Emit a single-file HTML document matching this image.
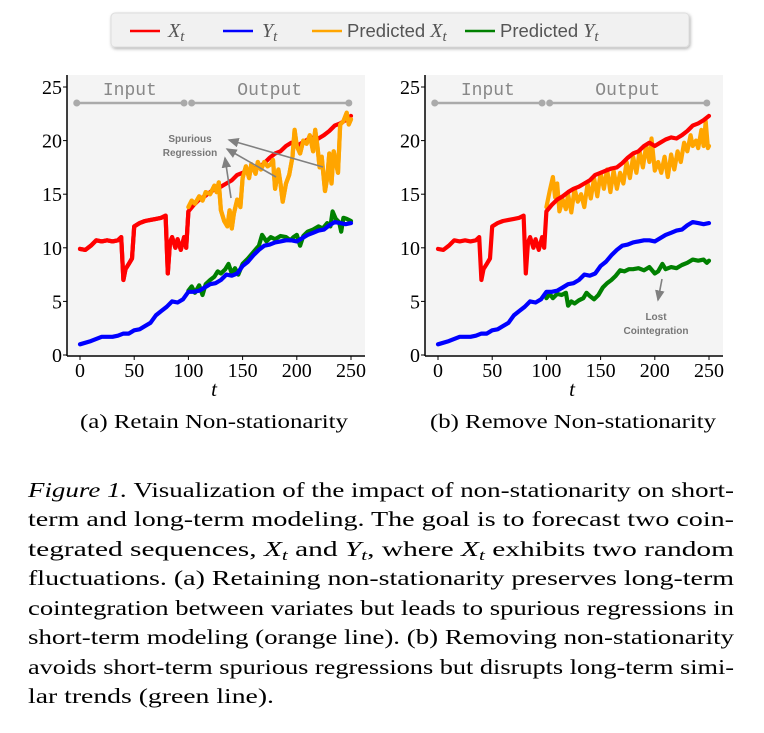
<!DOCTYPE html>
<html><head><meta charset="utf-8"><style>
html,body{margin:0;padding:0;background:#fff;}
svg{display:block;font-family:"Liberation Serif",serif;}
</style></head><body>
<svg id="fig" width="764" height="733" viewBox="0 0 764 733" xmlns="http://www.w3.org/2000/svg">
<defs><filter id="sh" x="-5%" y="-30%" width="110%" height="160%"><feDropShadow dx="1" dy="1.5" stdDeviation="1.5" flood-color="#000" flood-opacity="0.3"/></filter>
<marker id="ah" markerWidth="8" markerHeight="8" refX="6" refY="3" orient="auto"><path d="M0,0 L7,3 L0,6 z" fill="#808080"/></marker></defs>
<g>
<rect x="111" y="13" width="578" height="34" rx="4" fill="#f1f1f1" stroke="#ddd" filter="url(#sh)"/>
<line x1="130" y1="31" x2="160" y2="31" stroke="#ff0000" stroke-width="2.5"/>
<text x="168" y="37" font-size="20" fill="#555" font-style="italic">X<tspan font-size="15" dy="4">t</tspan></text>
<line x1="223" y1="31" x2="253" y2="31" stroke="#0000ff" stroke-width="2.5"/>
<text x="262" y="37" font-size="20" fill="#555" font-style="italic">Y<tspan font-size="15" dy="4">t</tspan></text>
<line x1="312" y1="31" x2="342" y2="31" stroke="#ffa500" stroke-width="2.5"/>
<text x="347" y="37" font-size="18.5" fill="#555" font-family="Liberation Sans,sans-serif">Predicted <tspan font-family="Liberation Serif,serif" font-style="italic" font-size="20">X</tspan><tspan font-family="Liberation Serif,serif" font-style="italic" font-size="15" dy="4">t</tspan></text>
<line x1="465" y1="31" x2="495" y2="31" stroke="#008000" stroke-width="2.5"/>
<text x="500" y="37" font-size="18.5" fill="#555" font-family="Liberation Sans,sans-serif">Predicted <tspan font-family="Liberation Serif,serif" font-style="italic" font-size="20">Y</tspan><tspan font-family="Liberation Serif,serif" font-style="italic" font-size="15" dy="4">t</tspan></text>
</g>
<g id="pa"></g>
<g id="pb"></g>
<g>
<text x="190" y="142" font-size="10" font-weight="bold" fill="#777" text-anchor="middle" font-family="Liberation Sans,sans-serif">Spurious</text>
<text x="190" y="156" font-size="10" font-weight="bold" fill="#777" text-anchor="middle" font-family="Liberation Sans,sans-serif">Regression</text>
<line x1="323" y1="167" x2="229" y2="140" stroke="#808080" stroke-width="1.6" marker-end="url(#ah)"/>
<line x1="276" y1="177" x2="227" y2="149" stroke="#808080" stroke-width="1.6" marker-end="url(#ah)"/>
<line x1="231" y1="198" x2="225" y2="158" stroke="#808080" stroke-width="1.6" marker-end="url(#ah)"/>
</g>
<g>
<line x1="662" y1="279" x2="658" y2="300" stroke="#808080" stroke-width="1.6" marker-end="url(#ah)"/>
<text x="656" y="320" font-size="10" font-weight="bold" fill="#777" text-anchor="middle" font-family="Liberation Sans,sans-serif">Lost</text>
<text x="656" y="334" font-size="10" font-weight="bold" fill="#777" text-anchor="middle" font-family="Liberation Sans,sans-serif">Cointegration</text>
</g>
<text x="80" y="428" font-size="20" textLength="268" lengthAdjust="spacingAndGlyphs">(a) Retain Non-stationarity</text>
<text x="430" y="428" font-size="20" textLength="286" lengthAdjust="spacingAndGlyphs">(b) Remove Non-stationarity</text>
<g font-size="21">
<text x="28" y="497" textLength="706" lengthAdjust="spacingAndGlyphs"><tspan font-style="italic">Figure 1.</tspan> Visualization of the impact of non-stationarity on short-</text>
<text x="28" y="526" textLength="706" lengthAdjust="spacingAndGlyphs">term and long-term modeling. The goal is to forecast two coin-</text>
<text x="28" y="556" textLength="706" lengthAdjust="spacingAndGlyphs">tegrated sequences, <tspan font-style="italic">X</tspan><tspan font-style="italic" font-size="15" dy="4">t</tspan><tspan dy="-4"> and </tspan><tspan font-style="italic">Y</tspan><tspan font-style="italic" font-size="15" dy="4">t</tspan><tspan dy="-4">, where </tspan><tspan font-style="italic">X</tspan><tspan font-style="italic" font-size="15" dy="4">t</tspan><tspan dy="-4"> exhibits two random</tspan></text>
<text x="28" y="585" textLength="706" lengthAdjust="spacingAndGlyphs">fluctuations. (a) Retaining non-stationarity preserves long-term</text>
<text x="28" y="615" textLength="706" lengthAdjust="spacingAndGlyphs">cointegration between variates but leads to spurious regressions in</text>
<text x="28" y="644" textLength="706" lengthAdjust="spacingAndGlyphs">short-term modeling (orange line). (b) Removing non-stationarity</text>
<text x="28" y="674" textLength="706" lengthAdjust="spacingAndGlyphs">avoids short-term spurious regressions but disrupts long-term simi-</text>
<text x="28" y="703" textLength="246" lengthAdjust="spacingAndGlyphs">lar trends (green line).</text>
</g>
</svg>
<script>
const xT=[0,5,10,15,20,25,30,35,38,40,42,45,48,50,55,60,65,70,75,79,81,83,85,88,90,93,96,98,100,105,110,115,120,125,130,135,140,145,150,155,160,165,170,175,180,185,190,195,200,205,210,215,220,225,230,235,240,245,250];
const xV=[9.9,9.8,10.2,10.7,10.6,10.7,10.6,10.7,11,7,8,8.5,9,12,12.3,12.5,12.6,12.7,12.8,13,7.6,10.5,11,10,10.8,9.8,11,10,13.4,14,14.5,14.8,15.2,15.5,15.7,16,16.3,16.8,17,17.2,17.4,17.5,17.9,18.4,18.8,19,19.5,19.8,19.5,19.8,20.1,20.3,20.2,20.5,20.9,21.4,21.6,21.9,22.3];
const yT=[0,10,20,30,35,40,45,50,55,60,65,70,75,80,85,90,95,100,105,110,115,120,125,130,135,140,145,150,155,160,165,170,175,180,185,190,195,200,205,210,215,220,225,230,235,240,245,250];
const yV=[1.0,1.3,1.7,1.7,1.8,2.0,2.0,2.3,2.4,2.7,3.0,3.7,4.1,4.5,5.0,4.9,5.2,5.9,5.9,6.0,6.3,6.6,6.7,7.0,7.5,7.4,7.6,8.3,8.7,9.3,9.8,10.2,10.3,10.5,10.6,10.7,10.7,10.6,10.9,11.2,11.4,11.6,11.7,12.1,12.4,12.3,12.2,12.3];
const aPxT=[100,103,106,110,113,116,120,124,126,128,130,133,136,138,140,142,145,148,150,153,156,158,162,164,167,170,173,176,178,180,183,185,187,190,193,196,198,200,203,206,209,212,215,217,219,221,223,226,228,230,232,234,236,238,240,243,246,248,250];
const aPxV=[13.8,14.4,14.1,14.8,14.4,15.2,15.0,15.8,15.2,16.1,13.5,12.5,12.0,13.5,11.8,13.2,14.5,13.8,16.5,17.6,16.5,17.8,16.9,18.0,17.3,18.0,17.6,17.8,18.2,15.5,17.3,16.0,14.3,16.0,16.8,18.5,21.0,19.5,18.8,20.0,19.7,20.5,19.0,21.0,19.5,17.5,18.5,15.3,16.5,18.8,16.0,19.0,18.0,17.0,21.5,21.8,22.6,21.5,22.0];
const aPyT=[100,103,106,110,113,116,120,124,127,130,134,137,140,143,146,150,155,160,165,168,172,176,180,185,190,194,197,200,203,206,210,215,220,224,228,231,233,236,239,241,243,246,250];
const aPyV=[6.0,6.4,5.8,6.5,5.6,6.6,7.0,7.3,7.8,7.6,8.0,8.5,7.6,8.1,7.5,8.5,9.0,9.6,10.2,11.2,10.6,11.0,10.8,11.1,11.0,10.7,11.0,11.2,10.2,11.1,11.5,11.7,12.0,11.8,12.3,12.0,13.4,12.7,12.4,11.5,12.8,12.7,12.5];
const bPxT=[100,103,106,108,110,112,115,118,120,123,126,129,132,135,138,141,144,147,150,153,156,159,162,165,168,171,174,177,180,183,186,189,192,195,197,200,203,206,209,212,215,218,221,224,227,230,233,235,238,240,243,245,247,249,250];
const bPxV=[13.8,15.3,16.6,14.7,16.0,13.4,14.5,13.6,15.0,13.3,15.5,14.3,15.0,13.8,16.0,14.6,16.5,14.8,17.0,15.5,17.3,15.2,17.2,15.5,17.0,16.0,18.0,16.5,18.5,17.0,19.0,17.5,19.5,18.0,20.2,17.2,18.0,17.0,18.5,16.6,18.7,17.3,19.0,18.0,19.8,19.0,20.5,19.5,20.0,19.3,21.0,19.5,21.8,19.3,19.5];
const bPyT=[100,103,106,110,114,118,120,123,126,130,134,137,140,144,148,152,156,160,164,168,172,176,180,185,190,195,200,203,207,210,215,220,225,230,235,240,245,248,250];
const bPyV=[5.3,5.7,5.3,5.7,5.6,5.8,4.6,5.0,4.8,5.1,5.3,5.8,5.5,5.2,5.6,6.3,6.7,7.0,7.4,7.9,7.8,8.0,8.0,8.1,7.9,8.2,7.6,7.8,8.5,8.0,8.2,8.1,8.4,8.6,8.9,8.8,8.9,8.6,8.8];
const xTicks=[0,50,100,150,200,250];
const yTicks=[0,5,10,15,20,25];
const NS='http://www.w3.org/2000/svg';
function mk(tag,attrs,parent){const e=document.createElementNS(NS,tag);for(const k in attrs)e.setAttribute(k,attrs[k]);parent.appendChild(e);return e;}
function panel(g,left,x0,x250,bgRight,px,py,key){
  const sx=t=>x0+(x250-x0)*t/250, sy=v=>355-(355-87)*v/25;
  const bg=mk('rect',{x:left,y:75,width:bgRight-left,height:280,fill:'#f4f4f4'},g);
  
  
  const io=mk('g',{},g);
  
  
  const yb=103;
  mk('line',{x1:sx(-3),y1:yb,x2:sx(96),y2:yb,stroke:'#aaa','stroke-width':2.5},io);
  mk('line',{x1:sx(103),y1:yb,x2:sx(248),y2:yb,stroke:'#aaa','stroke-width':2.5},io);
  [-3,96,103,248].forEach(t=>mk('circle',{cx:sx(t),cy:yb,r:3.5,fill:'#aaa'},io));
  const ti=mk('text',{x:sx(46),y:95,'font-size':18,fill:'#888','text-anchor':'middle','font-family':'Liberation Mono,monospace'},io);ti.textContent='Input';
  const to=mk('text',{x:sx(175),y:95,'font-size':18,fill:'#888','text-anchor':'middle','font-family':'Liberation Mono,monospace'},io);to.textContent='Output';
  function line(T,V,col,name){const d=T.map((t,i)=>(i?'L':'M')+sx(t).toFixed(1)+','+sy(V[i]).toFixed(1)).join('');
    const p=mk('path',{d:d,fill:'none',stroke:col,'stroke-width':4.2,'stroke-linejoin':'round','stroke-linecap':'round'},g);
    
    }
  line(py[0],py[1],'#008000','predicted-y-line');
  line(yT,yV,'#0000ff','y-line');
  line(px[0],px[1],'#ffa500','predicted-x-line');
  line(xT,xV,'#ff0000','x-line');
  if(key==='a'){line(px[0],px[1],'#ffa500','predicted-x-line-top');line(xT.filter(t=>t<=100),xV.slice(0,xT.indexOf(100)+1),'#ff0000','x-line-input');}
  const ax=mk('g',{},g);
  
  
  mk('line',{x1:left,y1:75,x2:left,y2:356,stroke:'#000','stroke-width':1.5},ax);
  mk('line',{x1:left,y1:356,x2:bgRight,y2:356,stroke:'#000','stroke-width':1.5},ax);
  yTicks.forEach(v=>{mk('line',{x1:left-4,y1:sy(v),x2:left,y2:sy(v),stroke:'#000'},ax);
    const t=mk('text',{x:left-5,y:sy(v)+7,'font-size':20,'text-anchor':'end'},ax);t.textContent=v;
    
    });
  xTicks.forEach(v=>{mk('line',{x1:sx(v),y1:356,x2:sx(v),y2:360,stroke:'#000'},ax);
    const t=mk('text',{x:sx(v),y:377,'font-size':20,'text-anchor':'middle'},ax);t.textContent=v;
    
    });
  const xl=mk('text',{x:(left+bgRight)/2-2,y:396,'font-size':21,'font-style':'italic','text-anchor':'middle'},ax);xl.textContent='t';
  
  
}
panel(document.getElementById('pa'),67,80,351,365,[aPxT,aPxV],[aPyT,aPyV],'a');
panel(document.getElementById('pb'),425,438,709,723,[bPxT,bPxV],[bPyT,bPyV],'b');
</script>
</body></html>
